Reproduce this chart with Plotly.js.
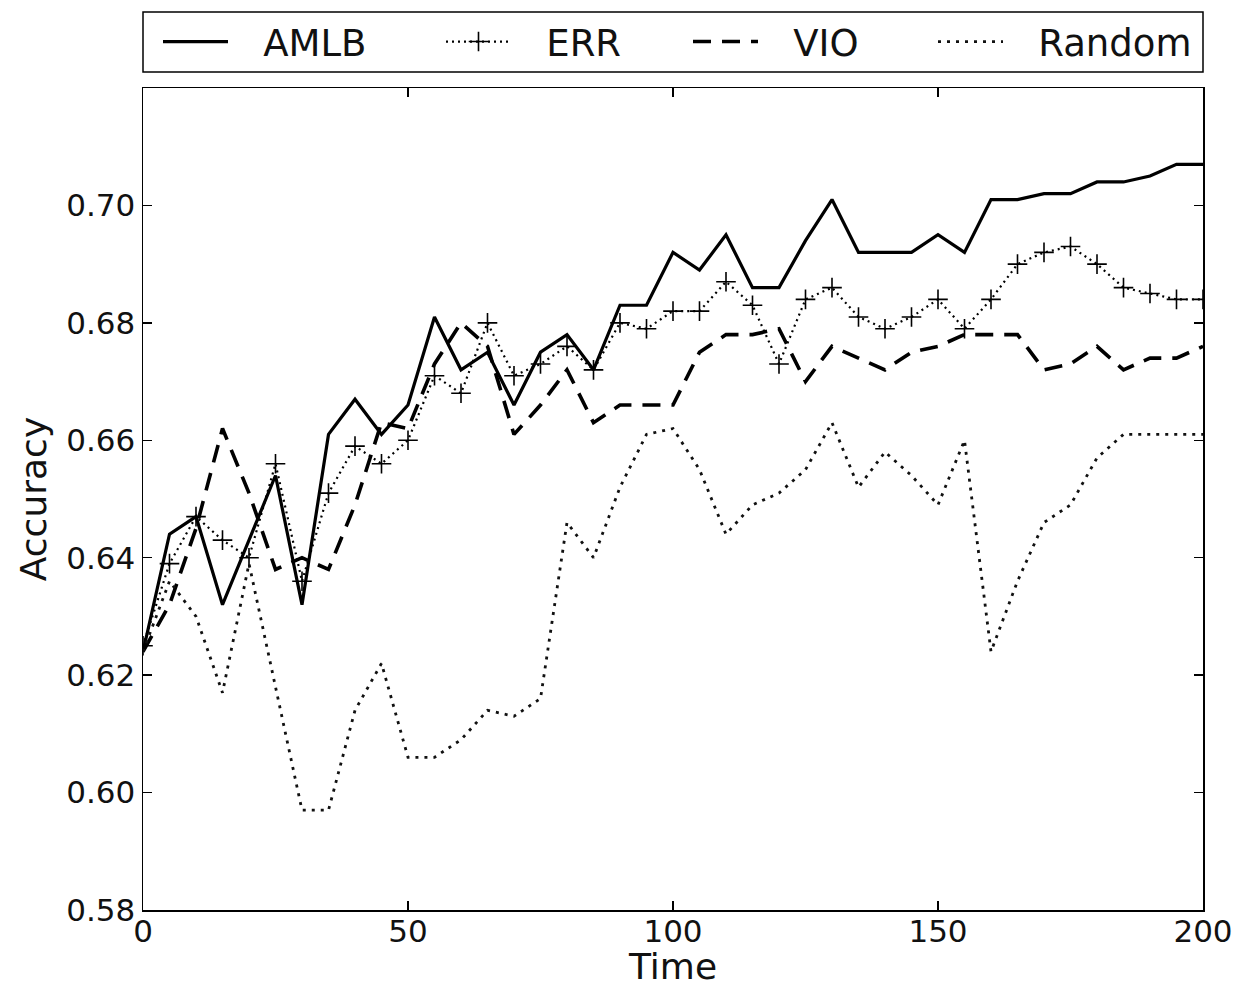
<!DOCTYPE html>
<html>
<head>
<meta charset="utf-8">
<script src="https://cdn.plot.ly/plotly-3.0.1.min.js"></script>
<style>html,body{margin:0;padding:0;background:#fff;}#chart{width:1243px;height:987px;}</style>
</head>
<body>
<div id="chart"></div>
<script>
const time = [0,5,10,15,20,25,30,35,40,45,50,55,60,65,70,75,80,85,90,95,100,105,110,115,120,125,130,135,140,145,150,155,160,165,170,175,180,185,190,195,200];

const amlb = [0.624,0.644,0.647,0.632,0.643,0.654,0.632,0.661,0.667,0.661,0.666,0.681,0.672,0.675,0.666,0.675,0.678,0.672,0.683,0.683,0.692,0.689,0.695,0.686,0.686,0.694,0.701,0.692,0.692,0.692,0.695,0.692,0.701,0.701,0.702,0.702,0.704,0.704,0.705,0.707,0.707];

const err = [0.625,0.639,0.647,0.643,0.640,0.656,0.636,0.651,0.659,0.656,0.660,0.671,0.668,0.680,0.671,0.673,0.676,0.672,0.680,0.679,0.682,0.682,0.687,0.683,0.673,0.684,0.686,0.681,0.679,0.681,0.684,0.679,0.684,0.690,0.692,0.693,0.690,0.686,0.685,0.684,0.684];

const vio = [0.624,0.632,0.645,0.662,0.651,0.638,0.640,0.638,0.649,0.663,0.662,0.673,0.680,0.676,0.661,0.666,0.672,0.663,0.666,0.666,0.666,0.675,0.678,0.678,0.679,0.670,0.676,0.674,0.672,0.675,0.676,0.678,0.678,0.678,0.672,0.673,0.676,0.672,0.674,0.674,0.676];

const random = [0.624,0.636,0.630,0.617,0.639,0.618,0.597,0.597,0.614,0.622,0.606,0.606,0.609,0.614,0.613,0.616,0.646,0.640,0.652,0.661,0.662,0.655,0.644,0.649,0.651,0.655,0.663,0.652,0.658,0.654,0.649,0.660,0.624,0.636,0.646,0.649,0.657,0.661,0.661,0.661,0.661];

const seriesNames = ['AMLB','ERR','VIO','Random'];

const xTicks = [0,50,100,150,200];
const yTicks = [0.58,0.60,0.62,0.64,0.66,0.68,0.70];
const yTickText = ['0.58','0.60','0.62','0.64','0.66','0.68','0.70'];

const font = 'DejaVu Sans, sans-serif';
const pad = '\u2002\u00a0';

const traces = [
  {x: time, y: amlb, name: pad + seriesNames[0], mode: 'lines', legendwidth: 203,
   line: {color: '#000', width: 3.2}},
  {x: time, y: err, name: pad + seriesNames[1], mode: 'lines+markers', legendwidth: 167,
   line: {color: '#000', width: 2.2, dash: '2px,4px'},
   marker: {symbol: 'cross-thin', size: 14, line: {color: '#000', width: 1.6}}},
  {x: time, y: vio, name: pad + seriesNames[2], mode: 'lines', legendwidth: 165,
   line: {color: '#000', width: 3.6, dash: '18px,11px'}},
  {x: time, y: random, name: pad + seriesNames[3], mode: 'lines', legendwidth: 195,
   line: {color: '#111', width: 2.8, dash: '3px,6px'}}
];

const axisCommon = {
  showline: true, linecolor: '#000', linewidth: 1.5, mirror: 'allticks',
  ticks: 'inside', ticklen: 9, tickwidth: 1.5, tickcolor: '#000',
  showgrid: false, zeroline: false,
  tickfont: {family: font, size: 31, color: '#111'}
};

const plotTop = 88, plotBottom = 910, plotH = plotBottom - plotTop;
const py = p => (plotBottom - p) / plotH;

const layout = {
  width: 1243, height: 987,
  paper_bgcolor: '#fff', plot_bgcolor: '#fff',
  margin: {l: 143, r: 40, t: 88, b: 77, autoexpand: false},
  showlegend: true,
  legend: {
    orientation: 'h', x: 15 / 1060, xanchor: 'left', y: py(42), yanchor: 'middle',
    borderwidth: 0, bgcolor: 'rgba(0,0,0,0)',
    font: {family: font, size: 37, color: '#111'},
    itemwidth: 65
  },
  shapes: [{
    type: 'rect', xref: 'paper', yref: 'paper',
    x0: 0, x1: 1, y0: py(72), y1: py(12),
    line: {color: '#000', width: 1.5}, fillcolor: 'rgba(0,0,0,0)', layer: 'below'
  }],
  xaxis: Object.assign({}, axisCommon, {
    range: [0, 200], tickvals: xTicks, ticktext: xTicks.map(String),
    ticklabelstandoff: -7,
    title: {text: 'Time', font: {family: font, size: 36, color: '#111'}, standoff: 0}
  }),
  yaxis: Object.assign({}, axisCommon, {
    range: [0.58, 0.72], tickvals: yTicks, ticktext: yTickText,
    title: {text: 'Accuracy', font: {family: font, size: 36, color: '#111'}, standoff: 8}
  })
};

Plotly.newPlot('chart', traces, layout, {displayModeBar: false, staticPlot: true});
</script>
</body>
</html>
